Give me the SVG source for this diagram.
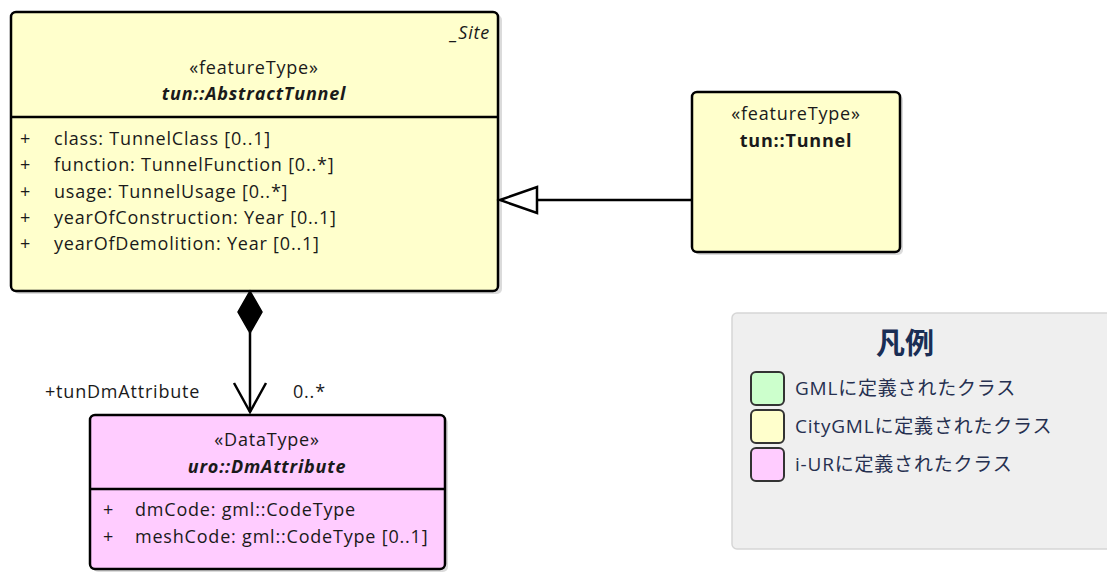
<svg xmlns="http://www.w3.org/2000/svg" width="1107" height="572" viewBox="0 0 1107 572">
<defs>
<style>
.box{stroke:#000;stroke-width:2.5}
.yel{fill:#ffffcc}
.pink{fill:#ffccff}
.shadow{fill:#000;opacity:0.14}
.t{font-family:"Open Sans","Noto Sans","DejaVu Sans",sans-serif;font-size:18px;letter-spacing:0.8px;fill:#1a1a1a}
.c{text-anchor:middle}
.bi{font-weight:bold;font-style:italic}
.b{font-weight:bold}
.i{font-style:italic}
.lg{font-family:"Open Sans","Noto Sans CJK JP",sans-serif;font-size:19px;letter-spacing:0.8px;fill:#263050}
.line{stroke:#000;stroke-width:2.5;fill:none}
</style>
</defs>
<rect width="1107" height="572" fill="#ffffff"/>
<g id="node-abstracttunnel">
<rect class="shadow" x="14" y="15" width="488" height="279" rx="5"/>
<rect class="box yel" x="11" y="12" width="487" height="279" rx="5"/>
<line class="line" x1="11" y1="117" x2="498" y2="117"/>
<text class="t i" x="490" y="39" text-anchor="end">_Site</text>
<text class="t c" x="254" y="74">«featureType»</text>
<text class="t c bi" x="254" y="100">tun::AbstractTunnel</text>
<text class="t" x="20" y="145">+</text><text class="t" x="54" y="145">class: TunnelClass [0..1]</text>
<text class="t" x="20" y="171">+</text><text class="t" x="54" y="171">function: TunnelFunction [0..*]</text>
<text class="t" x="20" y="198">+</text><text class="t" x="54" y="198">usage: TunnelUsage [0..*]</text>
<text class="t" x="20" y="224">+</text><text class="t" x="54" y="224">yearOfConstruction: Year [0..1]</text>
<text class="t" x="20" y="250">+</text><text class="t" x="54" y="250">yearOfDemolition: Year [0..1]</text>
</g>
<g id="node-tunnel">
<rect class="shadow" x="695" y="95" width="208" height="160" rx="5"/>
<rect class="box yel" x="692" y="92" width="208" height="160" rx="5"/>
<text class="t c" x="796" y="120">«featureType»</text>
<text class="t c b" x="796" y="147">tun::Tunnel</text>
</g>
<g id="node-dmattribute">
<rect class="shadow" x="93" y="418" width="355" height="154" rx="5"/>
<rect class="box pink" x="90" y="415" width="355" height="154" rx="5"/>
<line class="line" x1="90" y1="489" x2="445" y2="489"/>
<text class="t c" x="267" y="446">«DataType»</text>
<text class="t c bi" x="267" y="473">uro::DmAttribute</text>
<text class="t" x="103" y="516">+</text><text class="t" x="135" y="516">dmCode: gml::CodeType</text>
<text class="t" x="103" y="543">+</text><text class="t" x="135" y="543">meshCode: gml::CodeType [0..1]</text>
</g>
<g id="connectors">
<line class="line" x1="692" y1="200" x2="537" y2="200"/>
<polygon points="500,200 537,187 537,213" fill="#fff" stroke="#000" stroke-width="2.5"/>
<line class="line" x1="250" y1="332" x2="250" y2="412"/>
<polygon points="250,291 262,312 250,333 238,312" fill="#000" stroke="#000" stroke-width="1.5"/>
<polyline class="line" points="234,383 250,412 266,383"/>
<text class="t" x="45" y="398">+tunDmAttribute</text>
<text class="t" x="293" y="398">0..*</text>
</g>
<g id="legend">
<rect x="732" y="313" width="385" height="236" rx="5" fill="#efefef" stroke="#d6d6d6" stroke-width="1.5"/>
<text x="905" y="354" text-anchor="middle" font-family="'Noto Sans CJK JP',sans-serif" font-weight="bold" font-size="29" fill="#1a2e55">凡例</text>
<rect x="751" y="372" width="33" height="33" rx="5" fill="#ccffcc" stroke="#333" stroke-width="2"/>
<rect x="751" y="410" width="33" height="33" rx="5" fill="#ffffcc" stroke="#333" stroke-width="2"/>
<rect x="751" y="448" width="33" height="33" rx="5" fill="#ffccff" stroke="#333" stroke-width="2"/>
<text class="lg" x="795" y="395">GMLに定義されたクラス</text>
<text class="lg" x="795" y="433">CityGMLに定義されたクラス</text>
<text class="lg" x="795" y="471">i-URに定義されたクラス</text>
</g>
</svg>
